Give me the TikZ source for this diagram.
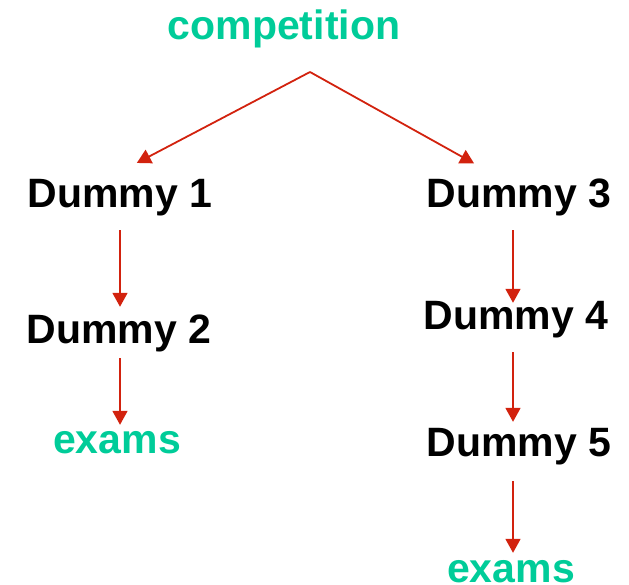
\documentclass[tikz,border=0pt]{standalone}
\usepackage{fontspec}
\setmainfont{Liberation Sans}
\usetikzlibrary{arrows.meta}
\definecolor{arrowred}{RGB}{210,34,14}
\definecolor{goalgreen}{RGB}{0,204,153}

\begin{document}
\begin{tikzpicture}[x=1pt, y=-1pt,
        word/.style={font=\fontsize{41}{48}\selectfont\bfseries, inner xsep=0pt, inner ysep=6pt, text height=30pt, text depth=9pt, anchor=base},
        goal/.style={word, text=goalgreen},
        arr/.style={arrowred, line width=1.8pt, -{Triangle[width=15pt, length=14pt]}}]
        \useasboundingbox (0, 0) rectangle (629, 585);
        % Nodes:
        \node[goal] (comp) at (284, 40) {competition};
        \node[word] (d1) at (120, 208) {Dummy 1};
        \node[word] (d2) at (119, 343) {Dummy 2};
        \node[goal] (ex1) at (117, 453) {exams};
        \node[word] (d3) at (519, 208) {Dummy 3};
        \node[word] (d4) at (516, 330) {Dummy 4};
        \node[word] (d5) at (519, 456) {Dummy 5};
        \node[goal] (ex2) at (511, 582) {exams};
        \coordinate (apex) at (310, 72);
        \coordinate (lcol) at (120, 0);
        \coordinate (rcol) at (513, 0);
        % Arrows:
        \draw[arr, shorten >=19pt] (apex) -- (d1.north);
        \draw[arr, shorten >=17pt] (apex) -- ([xshift=-30pt]d3.north);
        \draw[arr, shorten <=7pt] (lcol |- d1.south) -- (lcol |- d2.north);
        \draw[arr, shorten >=-8pt] (lcol |- d2.south) -- (lcol |- ex1.north);
        \draw[arr, shorten <=7pt, shorten >=-9pt] (rcol |- d3.south) -- (rcol |- d4.north);
        \draw[arr, shorten <=7pt, shorten >=-2pt] (rcol |- d4.south) -- (rcol |- d5.north);
        \draw[arr, shorten <=10pt, shorten >=-7pt] (rcol |- d5.south) -- (rcol |- ex2.north);
\end{tikzpicture}
\end{document}
